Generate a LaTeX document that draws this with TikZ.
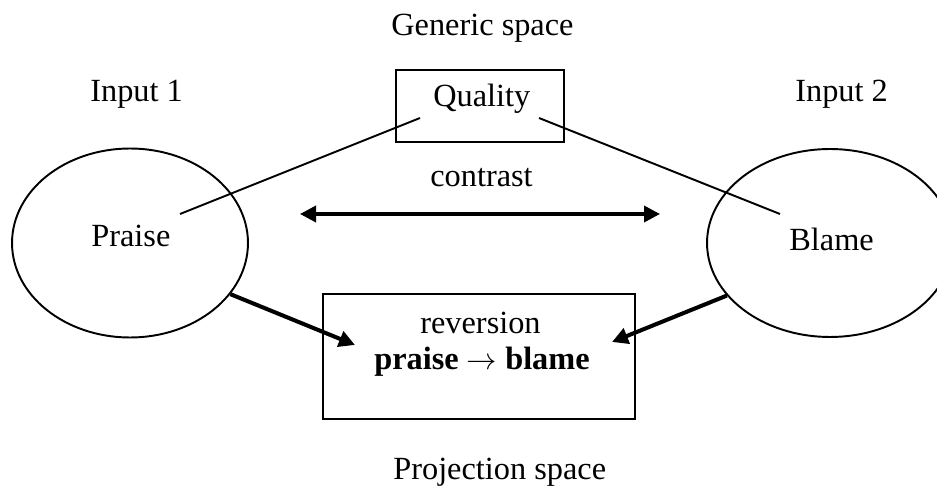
\documentclass[tikz,border=0pt]{standalone}
\usepackage{fontspec}
\setmainfont{Liberation Serif}
\usetikzlibrary{shapes.geometric, arrows.meta, positioning}

\begin{document}
\begin{tikzpicture}[x=0.02cm, y=-0.02cm,
    font=\fontsize{18.4}{22}\selectfont,
    label/.style={inner sep=0pt, anchor=base west},
    mental/.style={ellipse, draw, line width=1.1pt, inner sep=0pt},
    frame/.style={rectangle, draw, line width=1.1pt, inner sep=0pt},
    >={Triangle[length=0.32cm,width=0.32cm]}]
    \useasboundingbox (0,0) rectangle (937,486);
    % Add the spaces
        \node[frame,
              minimum width=3.36cm,
              minimum height=1.44cm
              ] (quality) at (480,106) {};
        \node[mental,
              minimum width=4.72cm,
              minimum height=3.78cm
              ] (praise) at (130,243) {};
        \node[mental,
              minimum width=4.92cm,
              minimum height=3.76cm
              ] (blame) at (830,243) {};
        \node[frame,
              minimum width=6.24cm,
              minimum height=2.5cm
              ] (reversion) at (479,356.5) {};
    % Add the texts
        \node[label] (generic) at (391,36) {Generic space};
        \node[label] (input1) at (90,102) {Input 1};
        \node[label] (input2) at (795,102) {Input 2};
        \node[label] (qualityText) at (433,107) {Quality};
        \node[label] (praiseText) at (91,247) {Praise};
        \node[label] (blameText) at (789,251) {Blame};
        \node[label] (contrast) at (430,187) {contrast};
        \node[label] (reversionText) at (420,334) {reversion};
        \node[label] (rule) at (374,370) {\textbf{praise $\rightarrow$ blame}};
        \node[label] (projection) at (393,479) {Projection space};
    % Free ends
        \coordinate (q1) at (420,118);
        \coordinate (q2) at (539,118);
        \coordinate (p1) at (180,214);
        \coordinate (b1) at (780,214);
        \coordinate (c1) at (300,214);
        \coordinate (c2) at (660,214);
        \coordinate (r1) at (355,345);
        \coordinate (r2) at (612,342);

       \draw[line width=1.1pt]
			(q1) edge[] (p1)
			(q2) edge[] (b1);
       \draw[line width=2pt, <->] (c1) -- (c2);
       \draw[line width=2.3pt, ->] (praise.-27) -- (r1);
       \draw[line width=2.3pt, ->] (blame.-153) -- (r2);
    \end{tikzpicture}
\end{document}
